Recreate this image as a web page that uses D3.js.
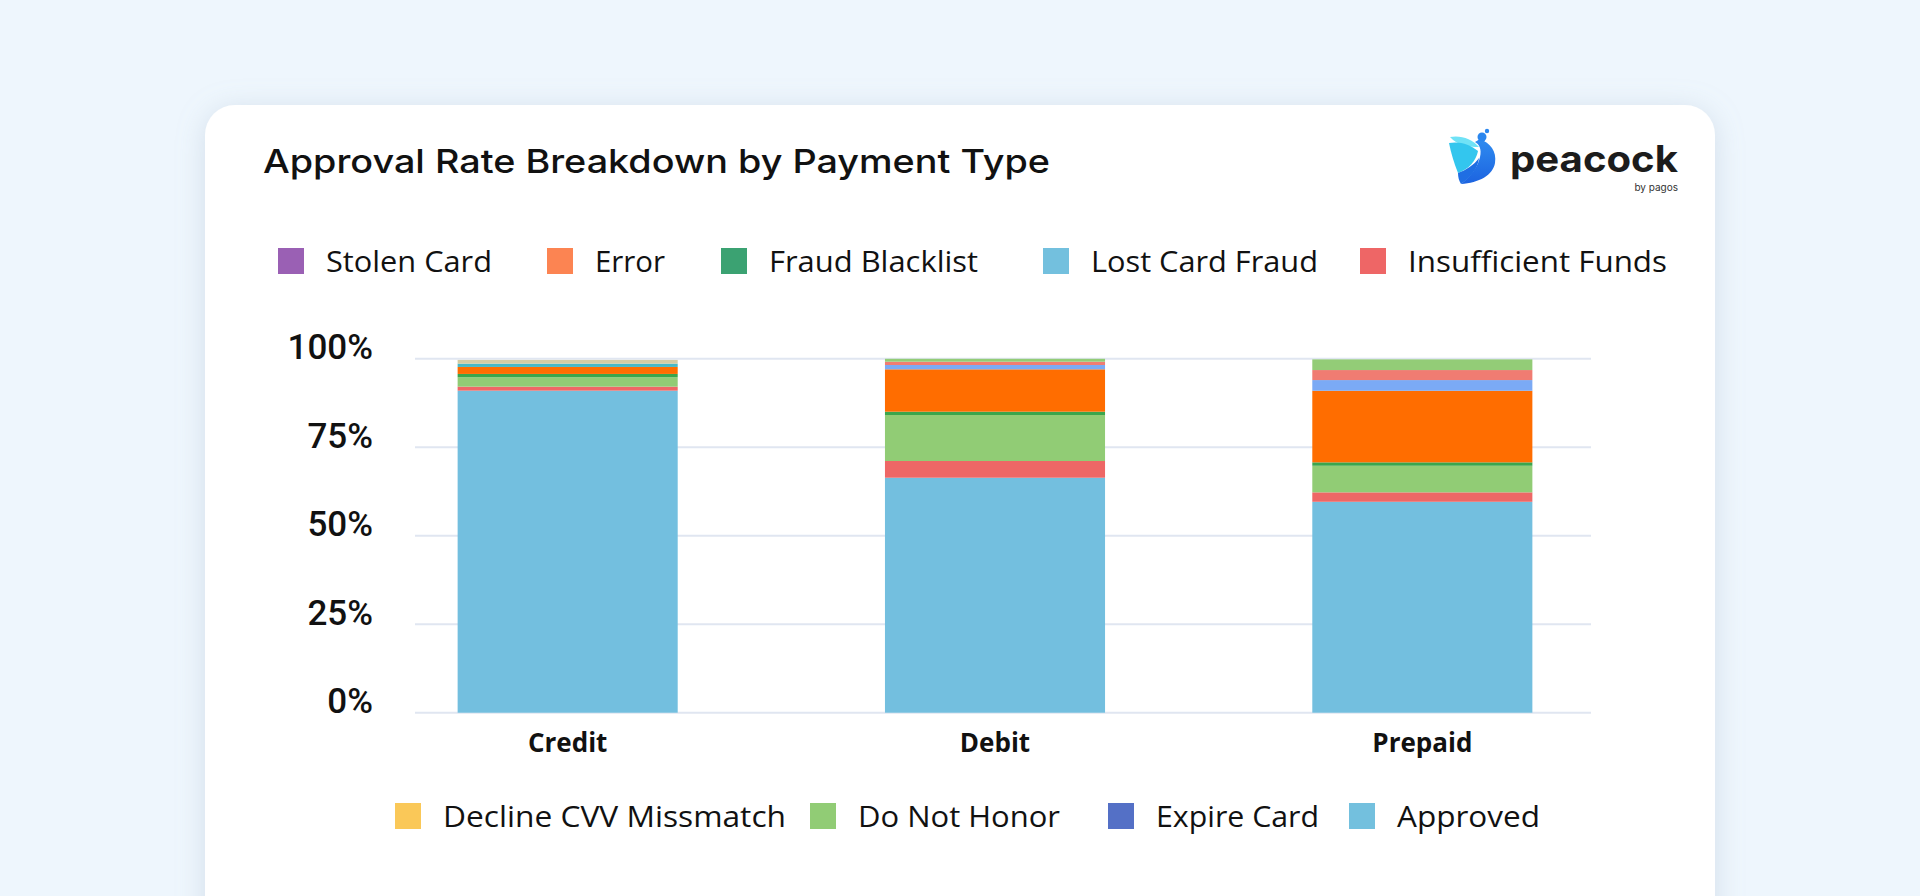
<!DOCTYPE html>
<html>
<head>
<meta charset="utf-8">
<script src="https://cdn.jsdelivr.net/npm/d3@7"></script>
<style>
  html, body { margin: 0; padding: 0; background: #eef6fd; }
  svg { display: block; }
</style>
</head>
<body>
<script>
// ---------- DATA ----------
const categories = ["Credit", "Debit", "Prepaid"];
const approved          = [91.0, 66.4, 59.6];
const insufficientFunds = [1.13, 4.72, 2.66];
const doNotHonor        = [2.66, 13.0, 7.52];
const fraudBlacklist    = [0.93, 0.93, 0.96];
const errorVals         = [1.98, 11.98, 20.23];
const expireCard        = [0, 1.22, 3.02];
const stolenCard        = [0, 0.93, 2.83];
const lostCardFraud     = [0.93, 0, 0];
const declineCvv        = [1.05, 0, 0];
const otherVals         = [0, 0.82, 3.02];
const yTicks = [0, 25, 50, 75, 100];
const topLegendNames = ["Stolen Card", "Error", "Fraud Blacklist", "Lost Card Fraud", "Insufficient Funds"];
const bottomLegendNames = ["Decline CVV Missmatch", "Do Not Honor", "Expire Card", "Approved"];

// ---------- STYLE / LAYOUT ----------
const seriesDefs = [
  { key: "Approved", values: approved, color: "#73bfdf" },
  { key: "Insufficient Funds", values: insufficientFunds, color: "#ee6766" },
  { key: "Do Not Honor", values: doNotHonor, color: "#91cc75" },
  { key: "Fraud Blacklist", values: fraudBlacklist, color: "#3aa64c" },
  { key: "Error", values: errorVals, color: "#ff6d00" },
  { key: "Expire Card", values: expireCard, color: "#7baaf5" },
  { key: "Stolen Card", values: stolenCard, color: "#f07c72" },
  { key: "Lost Card Fraud", values: lostCardFraud, color: "#48b9c6" },
  { key: "Decline CVV Missmatch", values: declineCvv, color: "#d5cca3" },
  { key: "Other", values: otherVals, color: "#93cc77" }
];
const topLegendColors = ["#9a60b4", "#fc8452", "#3ba272", "#73c0de", "#ee6666"];
const bottomLegendColors = ["#fac858", "#91cc75", "#5470c6", "#73c0de"];
const topLegendX = [278, 547, 721, 1043, 1360];
const topLegendW = [166, 70, 209, 227, 259];
const bottomLegendX = [395, 810, 1108, 1349];
const bottomLegendW = [343, 202, 163, 143];

const W = 1920, H = 896;
const svg = d3.select("body").append("svg").attr("width", W).attr("height", H);

const defs = svg.append("defs");
const f = defs.append("filter").attr("id", "shadow").attr("x", "-10%").attr("y", "-10%").attr("width", "120%").attr("height", "120%");
f.append("feDropShadow").attr("dx", 0).attr("dy", 4).attr("stdDeviation", 14)
  .attr("flood-color", "#9fb2c6").attr("flood-opacity", 0.35);
const g1 = defs.append("linearGradient").attr("id", "bodyGrad").attr("x1", 0).attr("y1", 0).attr("x2", 0).attr("y2", 1);
g1.append("stop").attr("offset", "0%").attr("stop-color", "#2f8cf0");
g1.append("stop").attr("offset", "100%").attr("stop-color", "#1c63e0");

// background + card
svg.append("rect").attr("width", W).attr("height", H).attr("fill", "#eef6fd");
svg.append("rect").attr("x", 205).attr("y", 105).attr("width", 1510).attr("height", 900)
  .attr("rx", 30).attr("fill", "#ffffff").attr("filter", "url(#shadow)");

// title
svg.append("text").attr("x", 263).attr("y", 173)
  .attr("font-family", "Inter, 'Noto Sans', sans-serif").attr("font-weight", 500)
  .attr("font-size", 33).attr("fill", "#111")
  .attr("textLength", 787).attr("lengthAdjust", "spacingAndGlyphs")
  .text("Approval Rate Breakdown by Payment Type");

// logo
const logo = svg.append("g");
logo.append("path").attr("fill", "#6fe2f6")
  .attr("d", "M1450,137 C1461,135 1472,139 1479,147 C1468,147 1457,145 1450,137 Z");
logo.append("path").attr("fill", "#33c6ee")
  .attr("d", "M1449,143 C1459,141 1470,144 1478,151 C1476,161 1469,169 1458,173 C1454,163 1451,153 1449,143 Z");
logo.append("path").attr("fill", "url(#bodyGrad)")
  .attr("d", "M1480,139 C1490,143 1497,151 1495,163 C1493,175 1479,183 1461,184 C1470,177 1478,167 1480,157 C1482,149 1479,144 1475,142 Z");
logo.append("path").attr("fill", "#1f6ee3")
  .attr("d", "M1458,173 C1466,170 1474,165 1479,158 C1478,168 1471,177 1461,184 C1459,181 1458,177 1458,173 Z");
logo.append("circle").attr("cx", 1482).attr("cy", 137).attr("r", 4.5).attr("fill", "#2a86ee");
logo.append("circle").attr("cx", 1487).attr("cy", 131).attr("r", 2.2).attr("fill", "#2a86ee");
logo.append("text").attr("x", 1510).attr("y", 172)
  .attr("font-family", "Inter, 'Noto Sans', sans-serif").attr("font-weight", 700)
  .attr("font-size", 37).attr("fill", "#1c1c1c")
  .attr("textLength", 168).attr("lengthAdjust", "spacingAndGlyphs").text("peacock");
logo.append("text").attr("x", 1678).attr("y", 191).attr("text-anchor", "end")
  .attr("font-family", "Inter, 'Noto Sans', sans-serif").attr("font-size", 10)
  .attr("fill", "#333").text("by pagos");

// legends
function legend(names, colors, xs, ws, cy) {
  const g = svg.append("g");
  names.forEach((n, i) => {
    g.append("rect").attr("x", xs[i]).attr("y", cy - 13).attr("width", 26).attr("height", 26)
      .attr("fill", colors[i]);
    g.append("text").attr("x", xs[i] + 48).attr("y", cy + 11)
      .attr("font-family", "'Open Sans', 'Noto Sans', sans-serif").attr("font-size", 30)
      .attr("fill", "#111").attr("textLength", ws[i]).attr("lengthAdjust", "spacingAndGlyphs")
      .text(n);
  });
}
legend(topLegendNames, topLegendColors, topLegendX, topLegendW, 261);
legend(bottomLegendNames, bottomLegendColors, bottomLegendX, bottomLegendW, 816);

// scales
const y = d3.scaleLinear().domain([0, 100]).range([712.7, 358.8]);
const x = d3.scaleBand().domain(categories).range([354, 1636]).paddingInner(0.485).paddingOuter(0.2425);

// gridlines
svg.append("g").selectAll("line").data(yTicks).join("line")
  .attr("x1", 415).attr("x2", 1591)
  .attr("y1", d => y(d)).attr("y2", d => y(d))
  .attr("stroke", "#e0e6f1").attr("stroke-width", 2);

// y axis labels
const yAxis = d3.axisLeft(y).tickValues(yTicks).tickFormat(d => d + "%").tickSize(0).tickPadding(0);
const ya = svg.append("g").attr("transform", "translate(373,0)").call(yAxis);
ya.select(".domain").remove();
ya.selectAll("text").attr("dy", 0).attr("font-family", "Roboto, sans-serif").attr("font-weight", 500)
  .attr("font-size", 35).attr("fill", "#111");

// stacked bars
const table = categories.map((c, i) => {
  const row = { category: c };
  seriesDefs.forEach(s => row[s.key] = s.values[i]);
  return row;
});
const stack = d3.stack().keys(seriesDefs.map(s => s.key));
const stacked = stack(table);
const colorOf = Object.fromEntries(seriesDefs.map(s => [s.key, s.color]));
svg.append("g").selectAll("g").data(stacked).join("g")
  .attr("fill", d => colorOf[d.key])
  .selectAll("rect").data(d => d).join("rect")
  .attr("x", d => x(d.data.category))
  .attr("width", x.bandwidth())
  .attr("y", d => y(d[1]))
  .attr("height", d => Math.max(0, y(d[0]) - y(d[1])));

// x axis labels
const xAxis = d3.axisBottom(x).tickSize(0).tickPadding(0);
const xa = svg.append("g").attr("transform", "translate(0,752)").call(xAxis);
xa.select(".domain").remove();
xa.selectAll("text").attr("dy", 0).attr("font-family", "'Open Sans', 'Noto Sans', sans-serif")
  .attr("font-weight", 700).attr("font-size", 26).attr("fill", "#111");
</script>
</body>
</html>
